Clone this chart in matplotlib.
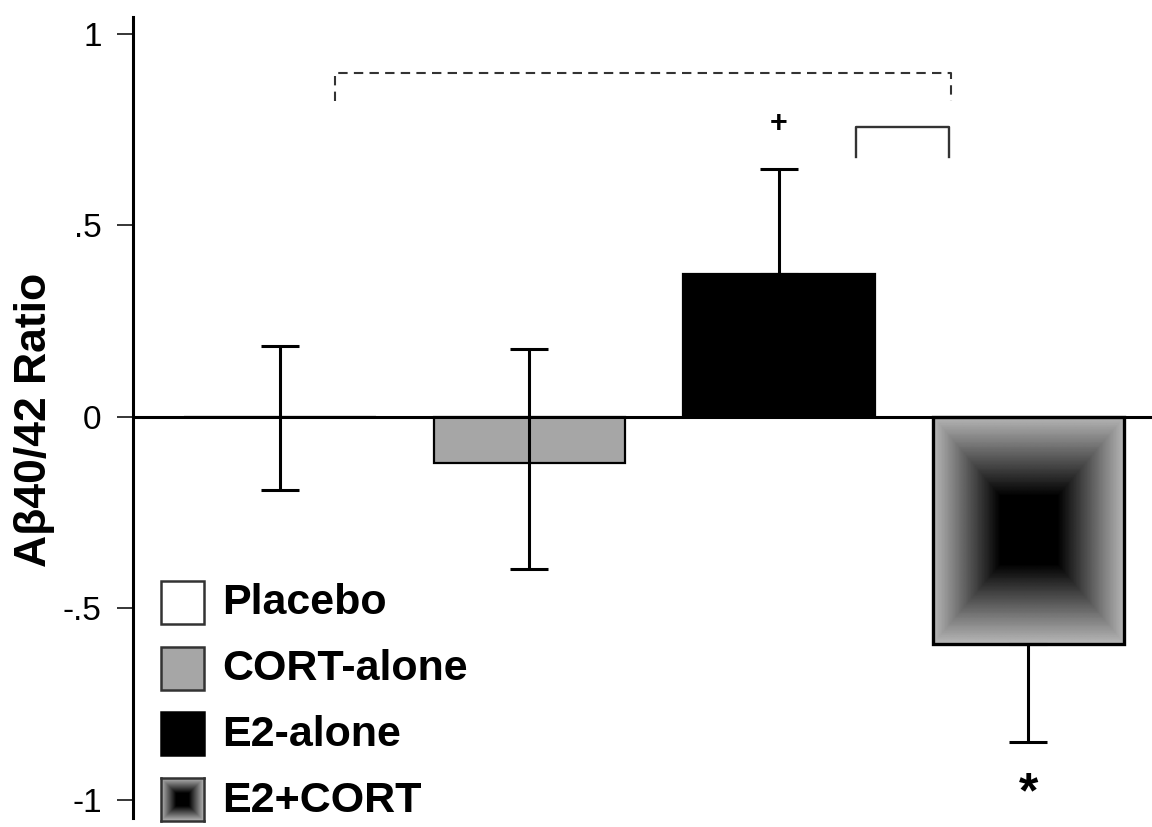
import numpy as np
import matplotlib
matplotlib.use("Agg")
import matplotlib.pyplot as plt
from matplotlib.patches import Rectangle

# ---- data ----
groups = ["Placebo", "CORT-alone", "E2-alone", "E2+CORT"]
means = [0.0, -0.12, 0.373, -0.593]
err_low = [0.19, 0.277, 0.0, 0.256]
err_high = [0.185, 0.298, 0.274, 0.0]
bar_colors = ["white", "#a6a6a6", "black", "none"]
ytick_vals = [-1, -0.5, 0, 0.5, 1]
ytick_labels = ["-1", "-.5", "0", ".5", "1"]
ylabel = "Aβ40/42 Ratio"
plus_marker = "+"
star_marker = "*"

W, H = 1152, 827
plt.rcParams['font.family'] = ['Liberation Sans', 'DejaVu Sans']
fig = plt.figure(figsize=(W / 100, H / 100), dpi=100)

def fx(px):
    return px / W

def fy(py):
    return 1 - py / H

ax = fig.add_axes([fx(133), fy(818), 1 - fx(133), fy(17) - fy(818)])
x = np.arange(len(groups))
ax.set_xlim(-0.589, 3.495)
ax.set_ylim(-1.047, 1.044)

bars = ax.bar(x, means, width=0.766, color=bar_colors, edgecolor="black",
              linewidth=1.6, zorder=2)
bars[3].set_linewidth(2.4)

# gradient fill for E2+CORT bar (pyramid gradient)
b = bars[3]
n = 300
u = np.linspace(-1, 1, n)
U, V = np.meshgrid(u, u)
D = np.maximum(np.abs(U), np.abs(V))
G = 0.72 * np.clip((D - 0.3) / 0.7, 0, 1)
G = np.round(G * 60) / 60
x0, y0 = b.get_x(), b.get_y()
w, h = b.get_width(), b.get_height()
im = ax.imshow(G, cmap="gray", vmin=0, vmax=1, aspect="auto",
               extent=[x0, x0 + w, y0 + h, y0], zorder=1.5, interpolation="bilinear")
im.set_clip_path(b)

ax.errorbar(x, means, yerr=[err_low, err_high], fmt="none", ecolor="black",
            elinewidth=2.2, capsize=13.7, capthick=2.2, zorder=3)

ax.axhline(0, color="black", linewidth=2.2, zorder=4)

# spines / ticks
for s in ["top", "right", "bottom"]:
    ax.spines[s].set_visible(False)
ax.spines["left"].set_linewidth(2.2)
ax.set_xticks([])
ax.set_yticks(ytick_vals)
ax.set_yticklabels(ytick_labels, fontsize=24)
ax.tick_params(axis="y", length=11.5, width=1.1, pad=11)

fig.text(fx(35), fy(420), ylabel, rotation=90, fontsize=32, fontweight="bold",
         ha="center", va="center")

# significance brackets
ax.plot([0.22, 0.22, 2.69, 2.69], [0.825, 0.898, 0.898, 0.825], color="#333333",
        linewidth=1.5, linestyle=(0, (4.5, 3)), zorder=3)
ax.plot([2.31, 2.31, 2.68, 2.68], [0.679, 0.757, 0.757, 0.679], color="#333333",
        linewidth=1.7, zorder=3)
ax.text(2, 0.765, plus_marker, fontsize=22, fontweight="bold", ha="center", va="center")
ax.text(3, -0.985, star_marker, fontsize=36, fontweight="bold", ha="center", va="center")

# legend (manual)
leg_tops = [581, 647, 712, 778]
leg_edge = ["#333333", "#333333", "black", "#333333"]
leg_fill = ["white", "#a6a6a6", "black", None]
for i, (top, name) in enumerate(zip(leg_tops, groups)):
    left, size = 161, 43
    if leg_fill[i] is None:
        ax_in = fig.add_axes([fx(left), fy(top + size), size / W, size / H])
        ax_in.imshow(G, cmap="gray", vmin=0, vmax=1, aspect="auto", interpolation="bilinear")
        ax_in.set_xticks([]); ax_in.set_yticks([])
        for s in ax_in.spines.values():
            s.set_linewidth(1.8); s.set_edgecolor(leg_edge[i])
    else:
        fig.patches.append(Rectangle((fx(left), fy(top + size)), size / W, size / H,
                                     transform=fig.transFigure, facecolor=leg_fill[i],
                                     edgecolor=leg_edge[i], linewidth=1.8))
    fig.text(fx(222), fy(top + size / 2 + 1), name, fontsize=31, fontweight="bold",
             ha="left", va="center")

fig.savefig("out.png", dpi=100)
